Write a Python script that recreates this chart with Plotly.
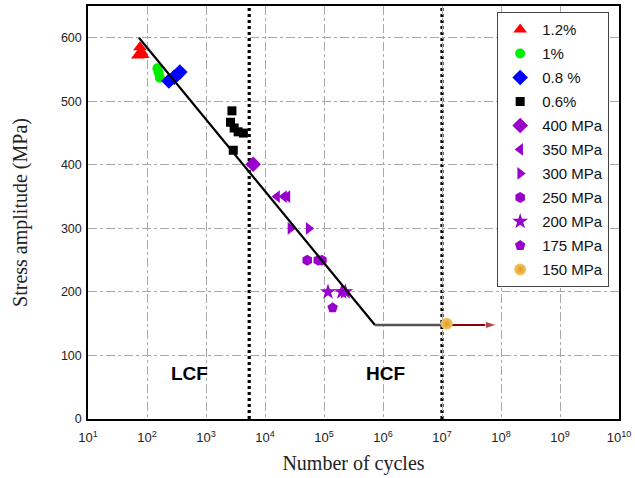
import plotly.graph_objects as go

# ---------------- data ----------------
n_12 = [76, 70, 85, 80]
s_12 = [585, 572, 573, 578]

n_10 = [150, 158, 165]
s_10 = [552, 545, 537]

n_08 = [235, 290, 360]
s_08 = [532, 538, 546]

n_06 = [2750, 2600, 3000, 3500, 4300, 2900]
s_06 = [485, 467, 458, 452, 450, 423]

n_400 = [6300]
s_400 = [401]

n_350 = [16000, 21000, 24000]
s_350 = [350, 350, 350]

n_300 = [27000, 55000]
s_300 = [300, 300]

n_250 = [52000, 80000, 92000]
s_250 = [250, 250, 250]

n_200 = [117000, 200000, 230000]
s_200 = [200, 200, 200]

n_175 = [140000]
s_175 = [175]

n_150 = [1.2e7]
s_150 = [150]

# S-N model lines
sn_N = [73, 7.3e5]
sn_S = [600, 148]
endurance_N = [7.3e5, 1.0e7]
endurance_S = [148, 148]
arrow_N = [1.0e7, 8.5e7]
arrow_S = [148, 148]

lcf_hcf_boundary = 5.4e3
hcf_limit = 1.0e7

x_tick_vals = [10 ** k for k in range(1, 11)]
x_tick_text = ["10<sup>%d</sup>" % k for k in range(1, 11)]
y_tick_vals = [0, 100, 200, 300, 400, 500, 600]

PURPLE = "#9900CC"

series = [
    ("1.2%", n_12, s_12, "triangle-up", "#FF0000", 12),
    ("1%", n_10, s_10, "circle", "#00EE00", 10),
    ("0.8 %", n_08, s_08, "diamond", "#0000FF", 12),
    ("0.6%", n_06, s_06, "square", "#000000", 9),
    ("400 MPa", n_400, s_400, "diamond", PURPLE, 12),
    ("350 MPa", n_350, s_350, "triangle-left", PURPLE, 11),
    ("300 MPa", n_300, s_300, "triangle-right", PURPLE, 11),
    ("250 MPa", n_250, s_250, "hexagon", PURPLE, 11),
    ("200 MPa", n_200, s_200, "star", PURPLE, 12),
    ("175 MPa", n_175, s_175, "pentagon", PURPLE, 11),
]

fig = go.Figure()

for i, (name, xs, ys, sym, col, sz) in enumerate(series):
    fig.add_trace(go.Scatter(
        x=xs, y=ys, mode="markers", name=name, legendgroup="g%d" % i,
        marker=dict(symbol=sym, color=col, size=sz, line=dict(width=0)),
    ))

# S-N line
fig.add_trace(go.Scatter(x=sn_N, y=sn_S, mode="lines", showlegend=False,
                         line=dict(color="black", width=2.2)))
fig.add_trace(go.Scatter(x=endurance_N, y=endurance_S, mode="lines", showlegend=False,
                         line=dict(color="#555555", width=2.5)))
fig.add_trace(go.Scatter(x=arrow_N, y=arrow_S, mode="lines+markers", showlegend=False,
                         line=dict(color="#8B0000", width=2),
                         marker=dict(symbol="arrow", angleref="previous",
                                     size=[0, 12], color="#8B0000")))

fig.add_trace(go.Scatter(
    x=n_150, y=s_150, mode="markers", name="150 MPa", legendgroup="g10",
    marker=dict(symbol="circle", color="#F6C860", size=12,
                gradient=dict(type="radial", color="#DA9A28"), line=dict(width=0)),
))

for xv in [lcf_hcf_boundary, hcf_limit]:
    fig.add_shape(type="line", xref="x", yref="paper", x0=xv, x1=xv, y0=0, y1=1,
                  line=dict(color="black", width=3.2, dash="3px,3px"), layer="between")

fig.add_annotation(x=2.712, y=72, text="<b>LCF</b>", showarrow=False,
                   font=dict(family="Liberation Sans, Arial", size=19, color="black"))
fig.add_annotation(x=6.05, y=72, text="<b>HCF</b>", showarrow=False,
                   font=dict(family="Liberation Sans, Arial", size=19, color="black"))

fig.update_layout(
    width=635, height=478,
    margin=dict(l=88, r=16, t=6, b=59),
    paper_bgcolor="white", plot_bgcolor="white",
    font=dict(family="Liberation Sans, Arial", size=12, color="#222222"),
    legend=dict(
        x=0.9815, y=0.985, xanchor="right", yanchor="top",
        bgcolor="white", bordercolor="#444444", borderwidth=1,
        font=dict(family="Liberation Sans, Arial", size=15, color="#111111"),
        tracegroupgap=1.5, itemwidth=34,
    ),
    xaxis=dict(
        type="log", range=[1, 10], tickvals=x_tick_vals, ticktext=x_tick_text,
        tickfont=dict(size=13),
        showgrid=True, gridcolor="#A8A8A8", griddash="dashdot", gridwidth=1,
        showline=True, linecolor="black", linewidth=1.5, mirror=True,
        ticks="", zeroline=False, automargin=False, ticklabelstandoff=6,
        title=dict(text="Number of cycles", standoff=12,
                   font=dict(family="Liberation Serif, Times New Roman", size=20, color="#222222")),
    ),
    yaxis=dict(
        range=[0, 650], tickvals=y_tick_vals, tickfont=dict(size=12.5),
        showgrid=True, gridcolor="#A8A8A8", griddash="dashdot", gridwidth=1,
        showline=True, linecolor="black", linewidth=1.5, mirror=True,
        ticks="", zeroline=False, automargin=False, ticklabelstandoff=2,
        title=dict(text="Stress amplitude (MPa)", standoff=28,
                   font=dict(family="Liberation Serif, Times New Roman", size=20, color="#222222")),
    ),
)

fig.write_html("out.html", config={"displayModeBar": False},
               post_script="document.body.style.margin='0';document.body.style.padding='0';")
